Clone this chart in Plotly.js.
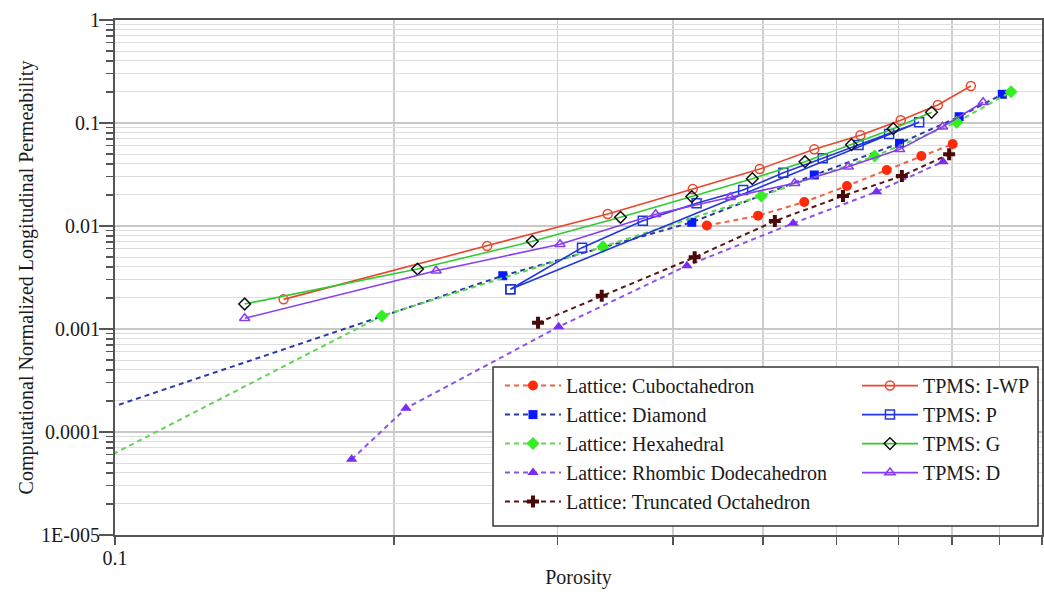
<!DOCTYPE html>
<html><head><meta charset="utf-8">
<script src="https://cdn.plot.ly/plotly-3.0.1.min.js"></script>
<style>html,body{margin:0;padding:0;background:#fff}#chart{width:1044px;height:597px}</style>
</head><body><div id="chart"></div>
<script>
// ---- data ----
const seriesNames = ["Lattice: Cuboctahedron","Lattice: Diamond","Lattice: Hexahedral","Lattice: Rhombic Dodecahedron","Lattice: Truncated Octahedron","TPMS: I-WP","TPMS: P","TPMS: G","TPMS: D"];

const cuboX = [0.435, 0.494, 0.554, 0.616, 0.680, 0.741, 0.801];
const cuboY = [0.0101, 0.0126, 0.0171, 0.0245, 0.0350, 0.0478, 0.0625];

const diamX = [0.080, 0.262, 0.419, 0.568, 0.702, 0.814, 0.906];
const diamY = [0.000091, 0.00329, 0.01086, 0.0313, 0.0635, 0.1151, 0.190];

const hexX = [0.080, 0.194, 0.336, 0.498, 0.660, 0.809, 0.926];
const hexY = [0.0000222, 0.00134, 0.00630, 0.0196, 0.0478, 0.1016, 0.2013];

const rhombX = [0.180, 0.206, 0.301, 0.414, 0.539, 0.663, 0.782];
const rhombY = [0.0000543, 0.000170, 0.00105, 0.00412, 0.01062, 0.0215, 0.0421];

const truncX = [0.286, 0.335, 0.422, 0.515, 0.610, 0.706, 0.794];
const truncY = [0.00115, 0.00210, 0.00497, 0.01118, 0.0196, 0.0306, 0.0497];

const iwpX = [0.152, 0.252, 0.340, 0.420, 0.496, 0.568, 0.637, 0.704, 0.772, 0.838];
const iwpY = [0.00194, 0.00639, 0.0131, 0.0229, 0.0357, 0.0555, 0.0760, 0.1062, 0.1495, 0.2287];

const pX = [0.267, 0.319, 0.371, 0.424, 0.476, 0.526, 0.580, 0.634, 0.684, 0.737, 0.267];
const pY = [0.00243, 0.00616, 0.01126, 0.0166, 0.0224, 0.0329, 0.0454, 0.0611, 0.0782, 0.1016, 0.00243];

const gX = [0.138, 0.212, 0.282, 0.351, 0.419, 0.487, 0.555, 0.623, 0.691, 0.760];
const gY = [0.00175, 0.00382, 0.00710, 0.01215, 0.0193, 0.0288, 0.0421, 0.0616, 0.0881, 0.1270];

const dX = [0.138, 0.222, 0.302, 0.383, 0.461, 0.541, 0.618, 0.702, 0.781, 0.864];
const dY = [0.00127, 0.00368, 0.00664, 0.0130, 0.0190, 0.0260, 0.0376, 0.0555, 0.0920, 0.1589];

const yTickVals = [0.00001, 0.0001, 0.001, 0.01, 0.1, 1];
const yTickText = ["1E-005", "0.0001", "0.001", "0.01", "0.1", "1"];
const xTickVals = [0.1, 1];
const xTickText = ["0.1", "1"];

// ---- styling ----
const DASH = "5px,4px";
function lattice(name, x, y, lineColor, markerColor, symbol, size) {
  return {type:"scatter", mode:"lines+markers", name, x, y, legend:"legend", cliponaxis:true,
    line:{color:lineColor, width:2, dash:DASH},
    marker:{symbol, size, color:markerColor, line:{width:0}}};
}
function tpms(name, x, y, lineColor, markerColor, symbol, size) {
  return {type:"scatter", mode:"lines+markers", name, x, y, legend:"legend2", cliponaxis:true,
    line:{color:lineColor, width:1.6},
    marker:{symbol, size, color:markerColor, line:{width:1.5, color:markerColor}}};
}

const traces = [
  lattice(seriesNames[0], cuboX, cuboY, "#f2623e", "#ff2a0a", "circle", 10),
  lattice(seriesNames[1], diamX, diamY, "#2b38a8", "#0a18ff", "square", 9),
  lattice(seriesNames[2], hexX, hexY, "#5cd84c", "#33ee22", "diamond", 10),
  lattice(seriesNames[3], rhombX, rhombY, "#8a55e6", "#7a2cf2", "triangle-up", 10),
  lattice(seriesNames[4], truncX, truncY, "#5a1616", "#4a0808", "cross", 10),
  tpms(seriesNames[5], iwpX, iwpY, "#e8472c", "#e8472c", "circle-open", 9),
  tpms(seriesNames[6], pX, pY, "#2236e0", "#2236e0", "square-open", 9),
  tpms(seriesNames[7], gX, gY, "#2ecc2e", "#111111", "diamond-open", 9),
  tpms(seriesNames[8], dX, dY, "#8a3cf0", "#8a3cf0", "triangle-up-open", 9)
];

const yMinor = [];
for (let d = -5; d < 0; d++) for (let k = 2; k <= 9; k++) yMinor.push(k * Math.pow(10, d));
const xMinor = [0.2,0.3,0.4,0.5,0.6,0.7,0.8,0.9];

const FONT = "Liberation Serif, Times New Roman, serif";
const layout = {
  width:1044, height:597,
  paper_bgcolor:"#ffffff", plot_bgcolor:"#ffffff",
  margin:{l:115, r:2, t:20, b:62},
  showlegend:true,
  font:{family:FONT, size:20, color:"#1a1a1a"},
  xaxis:{type:"log", range:[-1, 0], tickmode:"array", tickvals:xTickVals, ticktext:xTickText,
    ticks:"outside", ticklen:8, tickwidth:1.5, tickcolor:"#555", ticklabelstandoff:-4,
    showgrid:true, gridcolor:"#c8c8c8", gridwidth:1.5,
    showline:true, linecolor:"#555", linewidth:2, mirror:true, zeroline:false,
    tickfont:{family:FONT, size:20, color:"#1a1a1a"},
    minor:{tickmode:"array", tickvals:xMinor, ticks:"outside", ticklen:8, tickwidth:1.5, tickcolor:"#555",
      showgrid:true, gridcolor:"#cfcfcf", gridwidth:1.5},
    title:{text:"Porosity", font:{family:FONT, size:20, color:"#1a1a1a"}, standoff:2}},
  yaxis:{type:"log", range:[-5, 0], tickmode:"array", tickvals:yTickVals, ticktext:yTickText,
    ticks:"outside", ticklen:14, tickwidth:1.5, tickcolor:"#555", ticklabelstandoff:-5,
    showgrid:true, gridcolor:"#c8c8c8", gridwidth:1.5,
    showline:true, linecolor:"#555", linewidth:2, mirror:true, zeroline:false,
    tickfont:{family:FONT, size:20, color:"#1a1a1a"},
    minor:{tickmode:"array", tickvals:yMinor, ticks:"outside", ticklen:7, tickwidth:1.2, tickcolor:"#555",
      showgrid:true, gridcolor:"#dedede", gridwidth:1},
    title:{text:"Computational Normalized Longitudinal Permeability", font:{family:FONT, size:20, color:"#1a1a1a"}, standoff:2}},
  legend:{x:0.4153, y:0.328, xanchor:"left", yanchor:"top", bgcolor:"rgba(0,0,0,0)", borderwidth:0,
    itemwidth:56, font:{family:FONT, size:20, color:"#1a1a1a"}},
  legend2:{x:0.8004, y:0.328, xanchor:"left", yanchor:"top", bgcolor:"rgba(0,0,0,0)", borderwidth:0,
    itemwidth:56, font:{family:FONT, size:20, color:"#1a1a1a"}},
  shapes:[{type:"rect", xref:"paper", yref:"paper", x0:0.4078, x1:0.9957, y0:0.0175, y1:0.3262,
    line:{color:"#333", width:1.5}, fillcolor:"#ffffff", layer:"above"}]
};

Plotly.newPlot("chart", traces, layout, {staticPlot:true, displayModeBar:false});
</script>
</body></html>
